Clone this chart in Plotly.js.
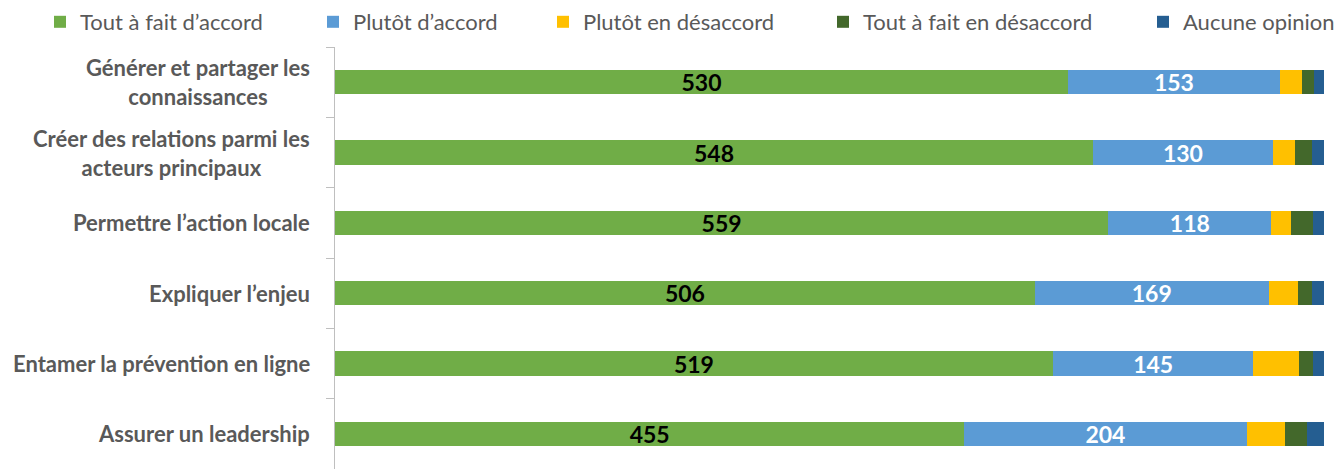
<!DOCTYPE html>
<html>
<head>
<meta charset="utf-8">
<script src="https://cdn.plot.ly/plotly-3.0.1.min.js"></script>
<style>html,body{margin:0;padding:0;background:#fff;}#chart{width:1343px;height:469px;}</style>
</head>
<body>
<div id="chart"></div>
<script>
const categories = [
  "Générer et partager les connaissances",
  "Créer des relations parmi les acteurs principaux",
  "Permettre l’action locale",
  "Expliquer l’enjeu",
  "Entamer la prévention en ligne",
  "Assurer un leadership"
];
const categoryLabels = [
  "Générer et partager les<br>connaissances",
  "Créer des relations parmi les<br>acteurs principaux",
  "Permettre l’action locale",
  "Expliquer l’enjeu",
  "Entamer la prévention en ligne",
  "Assurer un leadership"
];
const seriesNames = ["Tout à fait d’accord", "Plutôt d’accord", "Plutôt en désaccord", "Tout à fait en désaccord", "Aucune opinion"];
const toutAFaitDaccord = [530, 548, 559, 506, 519, 455];
const plutotDaccord = [153, 130, 118, 169, 145, 204];
const plutotEnDesaccord = [16, 16, 14, 21, 33, 28];
const toutAFaitEnDesaccord = [9, 12, 16, 10, 10, 16];
const aucuneOpinion = [7, 9, 8, 9, 8, 12];

const colors = ["#70AD47", "#5B9BD5", "#FFC000", "#43682B", "#255E91"];
const labelColors = ["#000000", "#ffffff", null, null, null];
const values = [toutAFaitDaccord, plutotDaccord, plutotEnDesaccord, toutAFaitEnDesaccord, aucuneOpinion];
const legendIds = ["legend", "legend2", "legend3", "legend4", "legend5"];
const legendTextPx = [80, 353, 583, 863, 1183];

const FONT = "Lato, 'Open Sans', sans-serif";
const W = 1343, H = 469;

const traces = values.map((v, i) => ({
  type: "bar",
  orientation: "h",
  name: seriesNames[i],
  y: categories,
  x: v,
  marker: {color: colors[i]},
  text: labelColors[i] ? v.map(String) : undefined,
  textposition: labelColors[i] ? "inside" : "none",
  insidetextanchor: "middle",
  textfont: {family: FONT, size: 23, color: labelColors[i] || "#000", weight: "bold"},
  constraintext: "none",
  hoverinfo: "x+name",
  legend: legendIds[i],
  showlegend: true
}));

const layout = {
  width: W, height: H,
  margin: {l: 335, r: 19, t: 47, b: 0},
  paper_bgcolor: "#ffffff",
  plot_bgcolor: "#ffffff",
  barmode: "stack",
  bargap: 0.655,
  font: {family: FONT, color: "#595959"},
  xaxis: {range: [0, 715], visible: false, fixedrange: true},
  yaxis: {
    type: "category",
    autorange: "reversed",
    showticklabels: false,
    showgrid: false,
    zeroline: false,
    showline: true,
    linecolor: "#bfbfbf",
    linewidth: 1,
    ticks: "outside",
    tickson: "boundaries",
    ticklen: 8,
    tickcolor: "#bfbfbf",
    tickwidth: 1
  },
  annotations: categories.map((c, i) => ({
    xref: "paper", yref: "y",
    x: 0, y: c,
    xanchor: "right", yanchor: "middle",
    xshift: -23,
    align: "center",
    showarrow: false,
    text: categoryLabels[i],
    font: {family: FONT, size: 22, color: "#595959", weight: "bold"}
  }))
};

legendIds.forEach((id, i) => {
  layout[id] = {
    xref: "container", yref: "container",
    x: (legendTextPx[i] - 40) / W,
    y: 1 - 22 / H,
    xanchor: "left", yanchor: "middle",
    orientation: "h",
    bgcolor: "rgba(0,0,0,0)",
    borderwidth: 0,
    font: {family: FONT, size: 22, color: "#595959"}
  };
});

Plotly.newPlot("chart", traces, layout, {displayModeBar: false, staticPlot: true});
</script>
</body>
</html>
